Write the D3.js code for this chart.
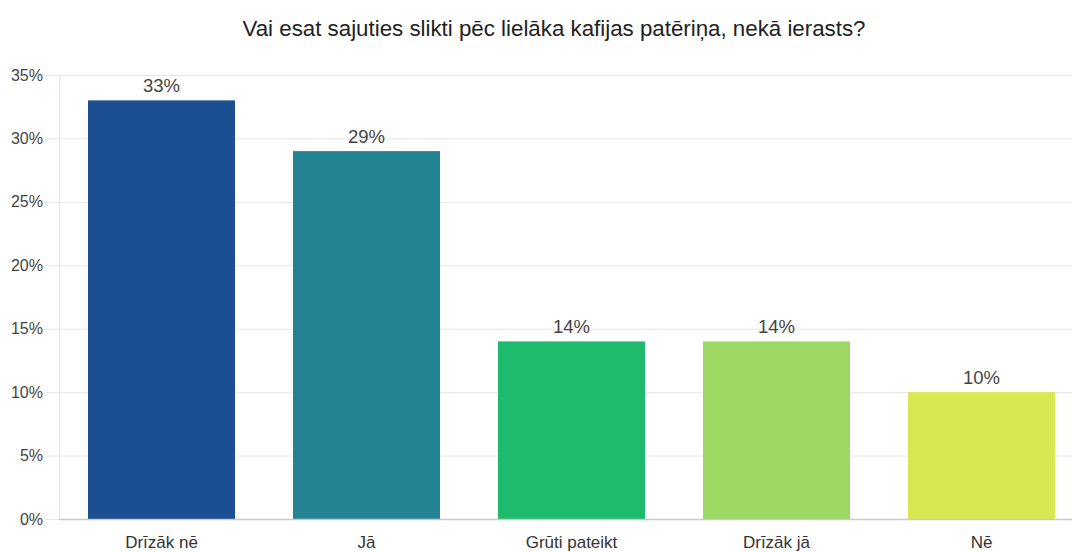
<!DOCTYPE html>
<html>
<head>
<meta charset="utf-8">
<script src="https://d3js.org/d3.v7.min.js"></script>
<style>
  body { margin: 0; background: #fff; }
  svg { display: block; font-family: "Liberation Sans", Arial, sans-serif; }
</style>
</head>
<body>
<svg id="chart" width="1072" height="552"></svg>
<script>
var categories = ["Drīzāk nē", "Jā", "Grūti pateikt", "Drīzāk jā", "Nē"];
var values = [33, 29, 14, 14, 10];
var colors = ["#1a5091", "#238393", "#1fbb6c", "#9dd862", "#d9e751"];
var yTicks = [0, 5, 10, 15, 20, 25, 30, 35];
var title = "Vai esat sajuties slikti pēc lielāka kafijas patēriņa, nekā ierasts?";

var svg = d3.select("svg#chart");
var margin = {top: 75, right: 0, bottom: 33, left: 59};
var width = +svg.attr("width") - margin.left - margin.right;
var height = +svg.attr("height") - margin.top - margin.bottom;

// band scale runs a little past the right edge, like the original
var x = d3.scaleBand()
  .domain(categories)
  .range([0, 1025])
  .paddingInner(0.283)
  .paddingOuter(0.1415);

var y = d3.scaleLinear().domain([0, 35]).range([height, 0]);

var g = svg.append("g")
  .attr("transform", "translate(" + margin.left + "," + margin.top + ")");

// grid + y axis
g.append("g")
  .attr("class", "axis axis--y")
  .call(d3.axisLeft(y)
    .tickValues(yTicks)
    .tickSize(-width)
    .tickPadding(14)
    .tickFormat(function(d) { return d + "%"; }))
  .call(function(a) {
    a.select(".domain").remove();
    a.selectAll(".tick line")
      .attr("x1", -14)
      .attr("stroke", "#e6e6e6");
    a.selectAll(".tick text")
      .attr("x", -16)
      .attr("fill", "#444")
      .style("font-size", "16px");
  });

// left vertical line
g.append("line")
  .attr("x1", 0.5).attr("x2", 0.5)
  .attr("y1", 0).attr("y2", height)
  .attr("stroke", "#e6e6e6");

// bars
g.selectAll(".bar")
  .data(values)
  .enter().append("rect")
  .attr("class", "bar")
  .attr("x", function(d, i) { return x(categories[i]); })
  .attr("y", function(d) { return y(d); })
  .attr("width", x.bandwidth())
  .attr("height", function(d) { return height - y(d); })
  .attr("fill", function(d, i) { return colors[i]; });

// value labels
g.selectAll(".val")
  .data(values)
  .enter().append("text")
  .attr("class", "val")
  .attr("x", function(d, i) { return x(categories[i]) + x.bandwidth() / 2; })
  .attr("y", function(d) { return y(d) - 8; })
  .attr("text-anchor", "middle")
  .attr("fill", "#444")
  .style("font-size", "18.5px")
  .text(function(d) { return d + "%"; });

// x axis baseline
g.append("line")
  .attr("x1", 0).attr("x2", width)
  .attr("y1", height + 0.5).attr("y2", height + 0.5)
  .attr("stroke", "#c8c8c8")
  .attr("stroke-width", 1.5);

// x labels (kept just inside the bottom edge)
g.selectAll(".xlab")
  .data(categories)
  .enter().append("text")
  .attr("class", "xlab")
  .attr("x", function(d) { return x(d) + x.bandwidth() / 2; })
  .attr("y", height + 28.5)
  .attr("text-anchor", "middle")
  .attr("fill", "#333")
  .style("font-size", "17px")
  .text(function(d) { return d; });

// title
svg.append("text")
  .attr("x", 554)
  .attr("y", 36)
  .attr("text-anchor", "middle")
  .attr("fill", "#222")
  .style("font-size", "22.3px")
  .text(title);
</script>
</body>
</html>
